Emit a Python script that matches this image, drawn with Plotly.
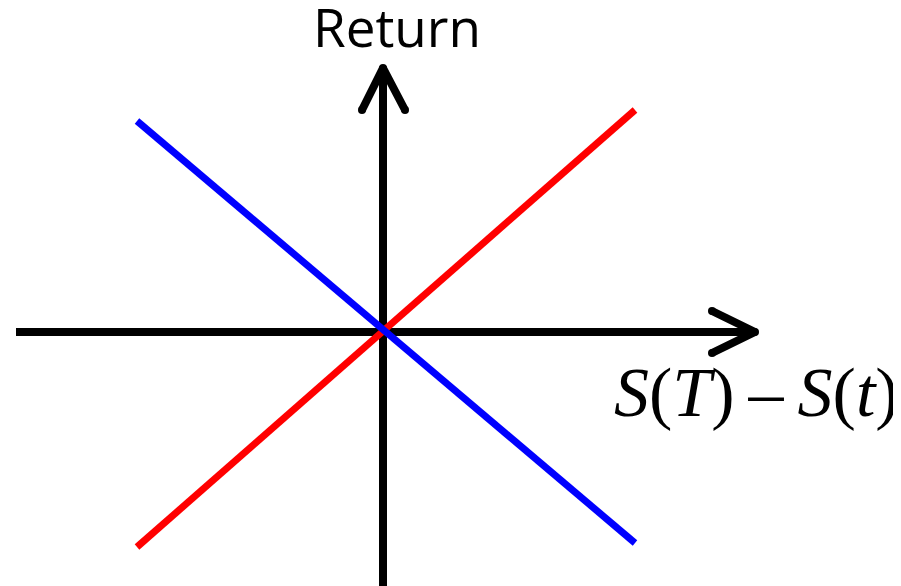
import plotly.graph_objects as go

# Schematic payoff lines (data units, origin at the axes' crossing)
long_x = [-2.46, 2.52]
long_y = [-2.15, 2.22]
short_x = [-2.46, 2.52]
short_y = [2.11, -2.11]

# Axes extents and arrow heads
h_axis_x = [-3.67, 3.72]
h_axis_y = [0, 0]
v_axis_x = [0, 0]
v_axis_y = [-2.7, 2.64]
v_head_x = [-0.21, 0, 0.22]
v_head_y = [2.22, 2.64, 2.22]
h_head_x = [3.29, 3.72, 3.29]
h_head_y = [0.21, 0, -0.21]

y_label = "Return"
x_label = "<i>S</i>(<i>T</i>)\u2009\u2013\u2009<i>S</i>(<i>t</i>)"

fig = go.Figure()
black = dict(color="black", width=8)
fig.add_trace(go.Scatter(x=h_axis_x, y=h_axis_y, mode="lines", line=black))
fig.add_trace(go.Scatter(x=v_axis_x, y=v_axis_y, mode="lines", line=black))
for hx, hy in [(v_head_x, v_head_y), (h_head_x, h_head_y)]:
    fig.add_trace(go.Scatter(x=hx, y=hy, mode="lines+markers", line=black,
                             marker=dict(color="black", size=8, symbol="circle")))
fig.add_trace(go.Scatter(x=long_x, y=long_y, mode="lines",
                         line=dict(color="#ff0000", width=7)))
fig.add_trace(go.Scatter(x=short_x, y=short_y, mode="lines",
                         line=dict(color="#0000ff", width=7)))

fig.add_annotation(x=0.135, y=3.06, text=y_label, showarrow=False,
                   font=dict(family="Open Sans", size=53, color="black"))
fig.add_annotation(x=3.73, y=-0.60, text=x_label, showarrow=False,
                   font=dict(family="Liberation Serif", size=70, color="black"))

fig.update_layout(
    width=901, height=586, margin=dict(l=0, r=0, t=0, b=0),
    showlegend=False, paper_bgcolor="white", plot_bgcolor="white",
    xaxis=dict(range=[-3.75, 5.26], visible=False, fixedrange=True),
    yaxis=dict(range=[-2.62, 3.24], visible=False, fixedrange=True),
)
fig.write_html("out.html")
